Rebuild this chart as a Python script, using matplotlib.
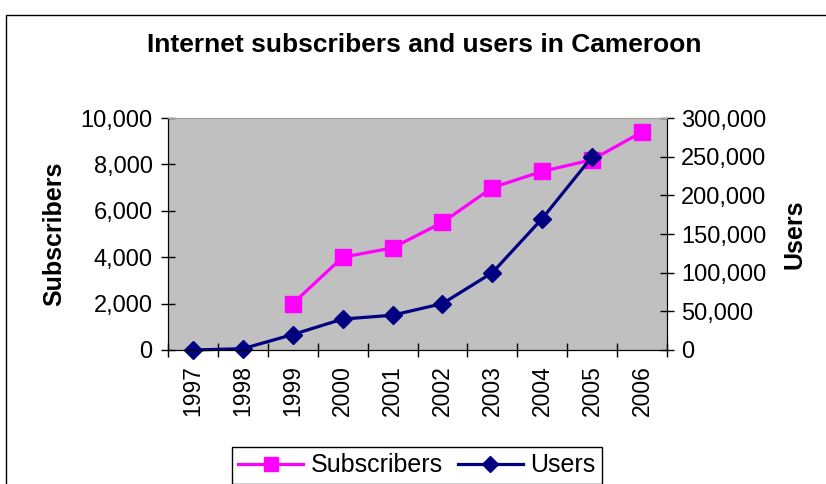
import matplotlib.pyplot as plt
from matplotlib.patches import Rectangle
from matplotlib.ticker import FuncFormatter, FixedLocator

plt.rcParams['font.family'] = ['Liberation Sans', 'DejaVu Sans']

# data
years = ['1997', '1998', '1999', '2000', '2001', '2002', '2003', '2004', '2005', '2006']
subscribers = [None, None, 2000, 4000, 4400, 5500, 7000, 7700, 8200, 9400]
users = [0, 1700, 20000, 40000, 45000, 60000, 100000, 170000, 250000, None]

fig = plt.figure(figsize=(8.26, 4.84), dpi=100)
fig.patch.set_facecolor('white')

# outer chart border (runs off the right/bottom like the original)
fig.patches.append(Rectangle((6 / 826, -0.1), 1.0, 1 - 15 / 484 + 0.1,
                             transform=fig.transFigure, fill=False,
                             edgecolor='black', linewidth=1))

ax = fig.add_axes([168 / 826, 1 - 350 / 484, 499 / 826, 232 / 484])
ax.set_facecolor('#C0C0C0')
ax2 = ax.twinx()

x = list(range(len(years)))
sx = [i for i, v in zip(x, subscribers) if v is not None]
sv = [v for v in subscribers if v is not None]
ux = [i for i, v in zip(x, users) if v is not None]
uv = [v for v in users if v is not None]

l1, = ax.plot(sx, sv, color='#FF00FF', marker='s', markersize=11.5,
              linewidth=2.3, label='Subscribers', clip_on=False)
l2, = ax2.plot(ux, uv, color='#000080', marker='D', markersize=9,
               linewidth=2.3, label='Users', clip_on=False)

ax.set_xlim(-0.5, len(years) - 0.5)
ax.set_ylim(0, 10000)
ax2.set_ylim(0, 300000)
ax.set_yticks(range(0, 10001, 2000))
ax2.set_yticks(range(0, 300001, 50000))
fmt = FuncFormatter(lambda v, p: f'{int(v):,}')
ax.yaxis.set_major_formatter(fmt)
ax2.yaxis.set_major_formatter(fmt)

# category boundaries get the tick marks, labels sit at the centres
ax.xaxis.set_major_locator(FixedLocator([i - 0.5 for i in range(len(years) + 1)]))
ax.xaxis.set_major_formatter(FuncFormatter(lambda v, p: ''))
ax.xaxis.set_minor_locator(FixedLocator(x))
ax.set_xticklabels(years, minor=True, rotation=90)
ax.tick_params(axis='x', which='minor', length=0, labelsize=16.5, pad=11)
ax.tick_params(axis='x', which='major', direction='inout', length=10, width=1)
ax.tick_params(axis='y', direction='inout', length=10, width=1, labelsize=17, pad=6)
ax2.tick_params(axis='y', direction='inout', length=10, width=1, labelsize=17, pad=5)

for a in (ax, ax2):
    a.spines['top'].set_color('#A0A0A0')
    a.spines['left'].set_color('black')
    a.spines['right'].set_color('black')
    a.spines['bottom'].set_color('black')

ax.set_ylabel('Subscribers', fontsize=18, fontweight='bold', labelpad=10)
ax2.set_ylabel('Users', fontsize=18, fontweight='bold', labelpad=12)

fig.text(424 / 826, 1 - 45 / 484, 'Internet subscribers and users in Cameroon',
         ha='center', va='center', fontsize=19, fontweight='bold')

leg = fig.legend([l1, l2], ['Subscribers', 'Users'], loc='upper center',
                 bbox_to_anchor=(417 / 826, 1 - 447 / 484), ncol=2,
                 borderaxespad=0, fontsize=18, frameon=True, fancybox=False,
                 framealpha=1, edgecolor='black', handlelength=2.6,
                 handletextpad=0.3, columnspacing=0.6, borderpad=0.25,
                 markerscale=0.9)
leg.get_frame().set_linewidth(1)

fig.savefig('out.png', dpi=100)
